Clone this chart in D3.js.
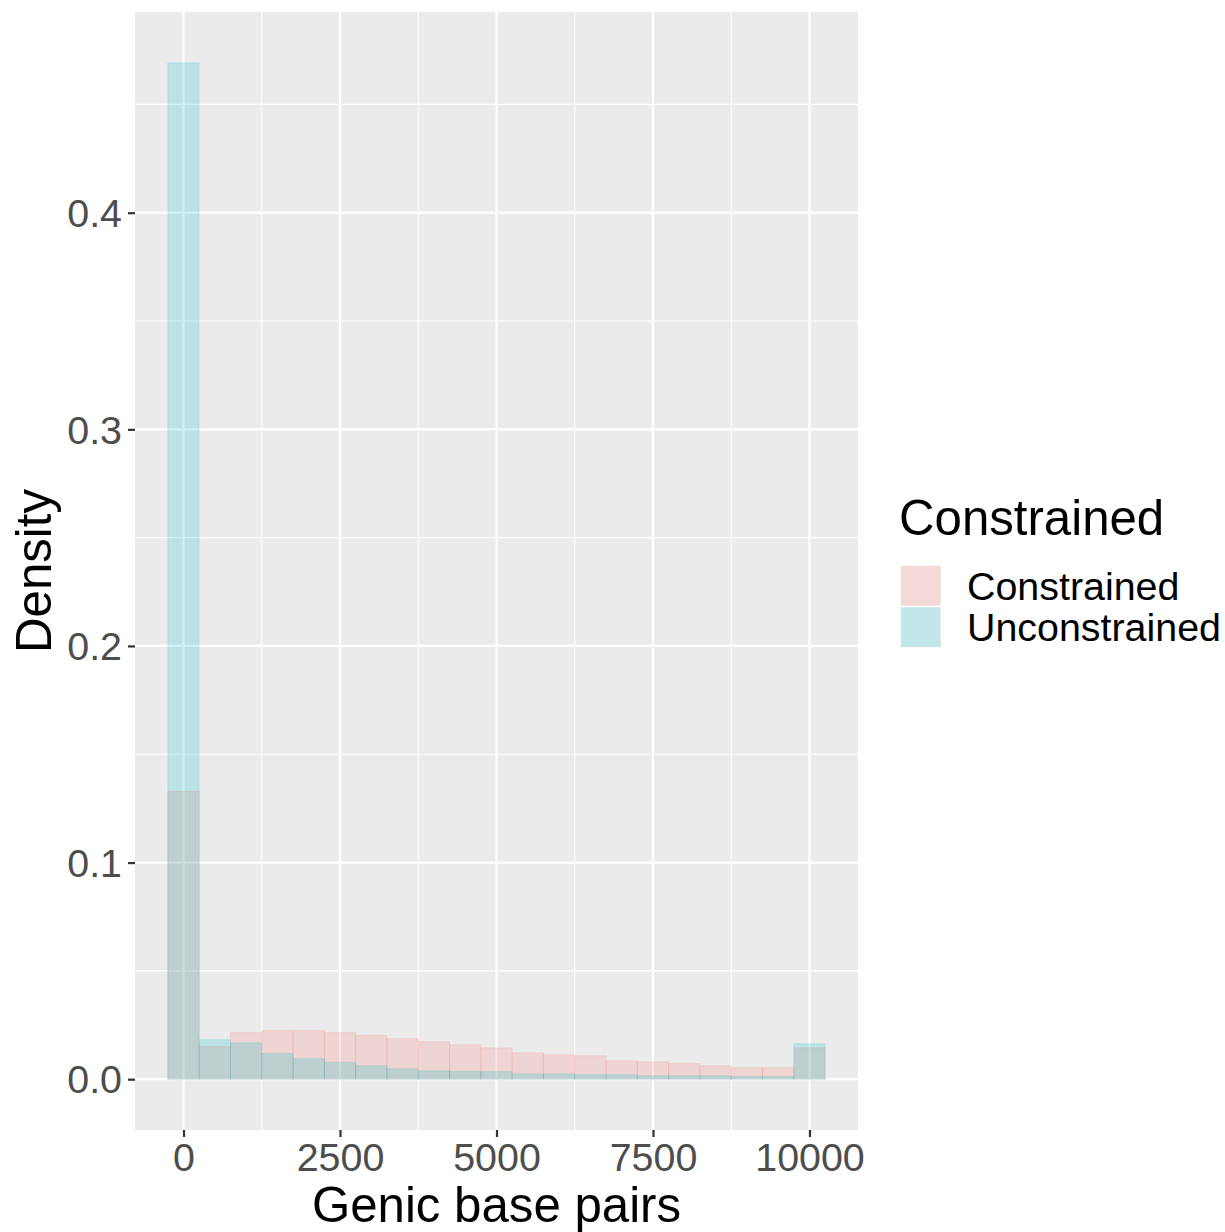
<!DOCTYPE html>
<html><head><meta charset="utf-8">
<script src="https://cdn.jsdelivr.net/npm/d3@7"></script>
<style>
html,body{margin:0;padding:0;background:#fff;}
text{font-family:"Liberation Sans",Arial,sans-serif;}
</style></head>
<body>
<svg id="chart" width="1225" height="1232"></svg>
<script>
const binCenters = [0,500,1000,1500,2000,2500,3000,3500,4000,4500,5000,5500,6000,6500,7000,7500,8000,8500,9000,9500,10000];
const binWidth = 500;
const constrained = [0.1329,0.0150,0.0215,0.0224,0.0224,0.0215,0.0202,0.0187,0.0173,0.0159,0.0145,0.0122,0.0113,0.0108,0.0085,0.0081,0.0072,0.0062,0.0053,0.0053,0.0145];
const unconstrained = [0.4692,0.0182,0.0168,0.0119,0.0095,0.0078,0.0062,0.0048,0.0039,0.0036,0.0035,0.0025,0.0025,0.0021,0.0021,0.0016,0.0016,0.0016,0.0012,0.0012,0.0164];
const seriesNames = ["Constrained","Unconstrained"];
const seriesColors = ["#F8766D","#00BFC4"];
const xTicks = [0,2500,5000,7500,10000];
const xMinor = [1250,3750,6250,8750];
const yTicks = [0,0.1,0.2,0.3,0.4];
const yMinor = [0.05,0.15,0.25,0.35,0.45];
const xTitle = "Genic base pairs";
const yTitle = "Density";
const legendTitle = "Constrained";

const svg = d3.select("#chart");
const P = {left:135, right:858, top:12, bottom:1130};
const xMin = -250, xMax = 10250, yMax = d3.max(unconstrained.concat(constrained));
const xPad = (xMax-xMin)*0.05, yPad = yMax*0.05;
const x = d3.scaleLinear().domain([xMin-xPad, xMax+xPad]).range([P.left,P.right]);
const y = d3.scaleLinear().domain([-yPad, yMax+yPad]).range([P.bottom,P.top]);

svg.append("rect").attr("x",P.left).attr("y",P.top).attr("width",P.right-P.left).attr("height",P.bottom-P.top).attr("fill","#EBEBEB");
const grid = svg.append("g");
xMinor.forEach(v=>grid.append("line").attr("x1",x(v)).attr("x2",x(v)).attr("y1",P.top).attr("y2",P.bottom).attr("stroke","#fff").attr("stroke-width",1.1));
yMinor.forEach(v=>grid.append("line").attr("y1",y(v)).attr("y2",y(v)).attr("x1",P.left).attr("x2",P.right).attr("stroke","#fff").attr("stroke-width",1.1));
xTicks.forEach(v=>grid.append("line").attr("x1",x(v)).attr("x2",x(v)).attr("y1",P.top).attr("y2",P.bottom).attr("stroke","#fff").attr("stroke-width",2.2));
yTicks.forEach(v=>grid.append("line").attr("y1",y(v)).attr("y2",y(v)).attr("x1",P.left).attr("x2",P.right).attr("stroke","#fff").attr("stroke-width",2.2));

[constrained, unconstrained].forEach((vals,si)=>{
  svg.append("g").selectAll("rect").data(binCenters).join("rect")
    .attr("x",(c)=>x(c-binWidth/2))
    .attr("width",(c)=>x(c+binWidth/2)-x(c-binWidth/2))
    .attr("y",(c,i)=>y(vals[i]))
    .attr("height",(c,i)=>y(0)-y(vals[i]))
    .attr("fill",seriesColors[si]).attr("fill-opacity",0.2)
    .attr("stroke",seriesColors[si]).attr("stroke-opacity",0.15).attr("stroke-width",1);
});

// axes
const xAxis = d3.axisBottom(x).tickValues(xTicks).tickSize(7).tickPadding(6).tickFormat(d3.format("d"));
const gx = svg.append("g").attr("transform",`translate(0,${P.bottom})`).call(xAxis);
const yAxis = d3.axisLeft(y).tickValues(yTicks).tickSize(7).tickPadding(6).tickFormat(d3.format(".1f"));
const gy = svg.append("g").attr("transform",`translate(${P.left},0)`).call(yAxis);
[gx,gy].forEach(g=>{
  g.select(".domain").remove();
  g.selectAll(".tick line").attr("stroke","#333").attr("stroke-width",2.2);
  g.selectAll(".tick text").attr("fill","#4D4D4D").style("font-size","39.4px").attr("font-family","Liberation Sans, Arial, sans-serif");
});
gx.selectAll(".tick text").attr("dy","0.71em");
gy.selectAll(".tick text").attr("dy","0.35em");

svg.append("text").attr("x",(P.left+P.right)/2).attr("y",1222).attr("text-anchor","middle")
  .style("font-size","49.2px").attr("fill","#000").text(xTitle);
svg.append("text").attr("transform",`translate(51,${(P.top+P.bottom)/2}) rotate(-90)`).attr("text-anchor","middle")
  .style("font-size","49.2px").attr("fill","#000").text(yTitle);

// legend
const lg = svg.append("g");
lg.append("text").attr("x",899).attr("y",535).style("font-size","49.2px").attr("fill","#000").text(legendTitle);
seriesNames.forEach((n,i)=>{
  const ky = 565 + i*41.5;
  lg.append("rect").attr("x",900).attr("y",ky).attr("width",41.5).attr("height",41.5).attr("fill","#F2F2F2").attr("stroke","#fff").attr("stroke-width",1);
  lg.append("rect").attr("x",901).attr("y",ky+1).attr("width",39.5).attr("height",39.5).attr("fill",seriesColors[i]).attr("fill-opacity",0.2);
  lg.append("text").attr("x",967).attr("y",ky+20.75).attr("dy","0.35em").style("font-size","39.4px").attr("fill","#000").text(n);
});
</script>
</body></html>
